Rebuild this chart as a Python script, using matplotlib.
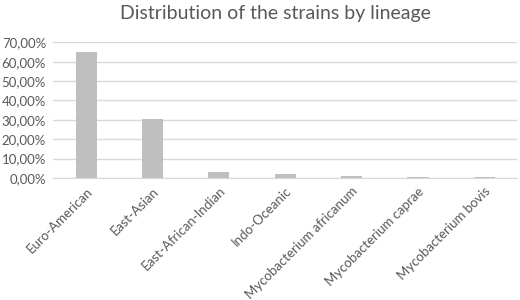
import numpy as np
import matplotlib.pyplot as plt
from matplotlib.ticker import FuncFormatter

lineages = ['Euro-American', 'East-Asian', 'East-African-Indian', 'Indo-Oceanic',
            'Mycobacterium africanum', 'Mycobacterium caprae', 'Mycobacterium bovis']
share = [0.651, 0.302, 0.028, 0.018, 0.010, 0.004, 0.004]
yticks = [0.0, 0.1, 0.2, 0.3, 0.4, 0.5, 0.6, 0.7]

plt.rcParams['font.family'] = ['Lato', 'DejaVu Sans']
txt = '#595959'

fig = plt.figure(figsize=(5.2, 3.0), dpi=100)
ax = fig.add_axes([0.102, 0.407, 0.893, 0.452])

x = np.arange(len(lineages))
ax.bar(x, share, width=0.32, color='#bfbfbf', zorder=3)

ax.set_ylim(0, 0.7)
ax.set_xlim(-0.5, len(lineages) - 0.5)
ax.set_yticks(yticks)
ax.yaxis.set_major_formatter(FuncFormatter(lambda v, p: ('%.2f%%' % (v * 100)).replace('.', ',')))
ax.grid(axis='y', color='#d9d9d9', linewidth=1, zorder=0)
ax.set_xticks(x)
ax.set_xticklabels(lineages, rotation=45, ha='right', rotation_mode='anchor')
ax.tick_params(axis='both', length=0, labelsize=9.5, colors=txt, pad=5)
for s in ['top', 'right', 'left']:
    ax.spines[s].set_visible(False)
ax.spines['bottom'].set_color('#d9d9d9')

fig.suptitle('Distribution of the strains by lineage', x=0.53, y=0.985, fontsize=14, color=txt)

fig.savefig('out.png', dpi=100)
